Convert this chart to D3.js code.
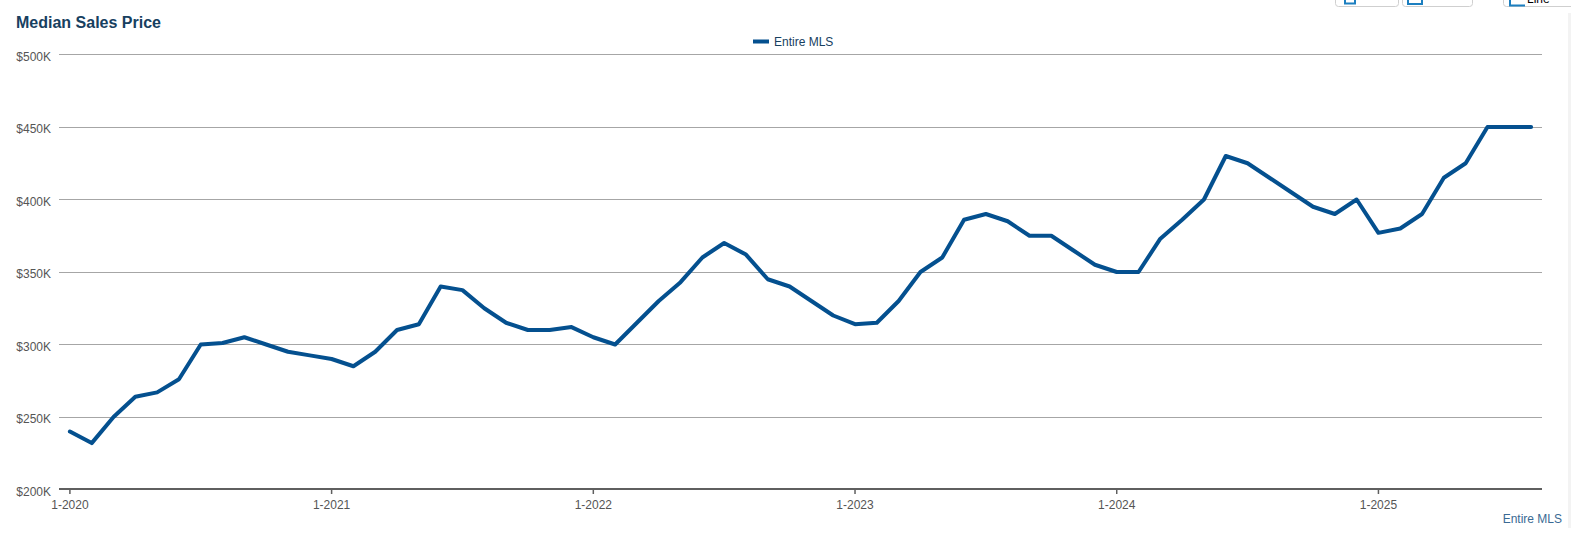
<!DOCTYPE html>
<html>
<head>
<meta charset="utf-8">
<script src="https://cdn.jsdelivr.net/npm/d3@7"></script>
<style>
  html, body { margin: 0; padding: 0; background: #fff; overflow: hidden; }
  text { font-family: "Liberation Sans", Arial, sans-serif; }
</style>
</head>
<body>
<div id="chart"></div>
<script>
let svgWidth = 1571;
let svgHeight = 535;

let months = [];
let years = [2020, 2021, 2022, 2023, 2024, 2025];
years.forEach(y => {
  for (let m = 1; m <= 12; m++) {
    if (y == 2025 && m > 8) break;
    months.push(m + "-" + y);
  }
});

// median price in $K, one per month
let prices = [
  240, 232, 250, 264, 267, 276, 300, 301, 305, 300, 295, 292.5,
  290, 285, 295, 310, 314, 340, 337.5, 325, 315, 310, 310, 312,
  305, 300, 315, 330, 343, 360, 370, 362, 345, 340, 330, 320,
  314, 315, 330, 350, 360, 386, 390, 385, 375, 375, 365, 355,
  350, 350, 373, 386, 400, 430, 425, 415, 405, 395, 390, 400,
  377, 380, 390, 415, 425, 450, 450, 450
];
let yTicks = [200, 250, 300, 350, 400, 450, 500];
let xTicks = ["1-2020", "1-2021", "1-2022", "1-2023", "1-2024", "1-2025"];
let seriesName = "Entire MLS";

let lineColor = "#04508f";
let titleColor = "#17405f";

let svg = d3.select("#chart")
  .append("svg")
    .attr("width", svgWidth)
    .attr("height", svgHeight)
    .style("display", "block");

let plotLeft = 59, plotRight = 1542, plotTop = 54.5, plotBottom = 489.5;

let x = d3.scaleBand().domain(months).range([plotLeft, plotRight]);
let y = d3.scaleLinear().domain([200, 500]).range([plotBottom, plotTop]);
let xMid = d => x(d) + x.bandwidth() / 2;

// grid lines + y labels
let yAxis = svg.append("g")
  .attr("transform", "translate(" + plotLeft + ",0)")
  .call(d3.axisLeft(y).tickValues(yTicks).tickSize(-(plotRight - plotLeft)).tickPadding(8).offset(0)
    .tickFormat(d => "$" + d + "K"));
yAxis.select(".domain").remove();
yAxis.selectAll("line")
  .attr("stroke", "#a6a6a6")
  .attr("stroke-width", 1)
  .attr("shape-rendering", "crispEdges");
yAxis.selectAll("text")
  .attr("font-size", 12)
  .attr("font-family", "Liberation Sans")
  .attr("fill", "#555")
  .attr("y", 2.5);

// x axis
let xAxis = svg.append("g")
  .attr("transform", "translate(0,489)")
  .call(d3.axisBottom(x).tickValues(xTicks).tickSize(5).tickSizeOuter(0).tickPadding(6));
xAxis.select(".domain").attr("stroke", "#5f5f5f").attr("stroke-width", 2).attr("d", "M" + plotLeft + ",0H" + plotRight);
xAxis.selectAll("line").attr("stroke", "#5f5f5f").attr("stroke-width", 1.5);
xAxis.selectAll("text")
  .attr("font-size", 12)
  .attr("font-family", "Liberation Sans")
  .attr("fill", "#555");

// the line
let line = d3.line().x((d, i) => xMid(months[i])).y(d => y(d));
svg.append("path")
  .attr("d", line(prices))
  .attr("fill", "none")
  .attr("stroke", lineColor)
  .attr("stroke-width", 4)
  .attr("stroke-linejoin", "round")
  .attr("stroke-linecap", "round");

// title
svg.append("text")
  .attr("x", 16).attr("y", 28)
  .attr("font-size", 16)
  .attr("font-weight", "bold")
  .attr("fill", titleColor)
  .text("Median Sales Price");

// legend
svg.append("rect")
  .attr("x", 753).attr("y", 39.5).attr("width", 16).attr("height", 4)
  .attr("fill", lineColor);
svg.append("text")
  .attr("x", 774).attr("y", 46)
  .attr("font-size", 12)
  .attr("fill", titleColor)
  .text(seriesName);

// label bottom right
svg.append("text")
  .attr("x", 1562).attr("y", 523)
  .attr("text-anchor", "end")
  .attr("font-size", 12)
  .attr("fill", "#3a6a94")
  .text(seriesName);

// toolbar buttons cut off at the top, scrollbar strip
let buttons = [[1335, 63], [1402, 70], [1503, 80]];
svg.selectAll(".btn").data(buttons).enter().append("rect")
  .attr("class", "btn")
  .attr("x", d => d[0] + 0.5).attr("y", -10)
  .attr("width", d => d[1]).attr("height", 16.5)
  .attr("rx", 3)
  .attr("fill", "#fff").attr("stroke", "#cfcfcf");
svg.append("path")
  .attr("d", "M1345,0V3.5H1355V0M1408,0V4H1422V0M1510,0V5.5H1525")
  .attr("fill", "none")
  .attr("stroke", "#1c7fc0")
  .attr("stroke-width", 2);
svg.append("text")
  .attr("x", 1527).attr("y", 3)
  .attr("font-size", 12)
  .attr("fill", "#000")
  .text("Line");
svg.append("rect")
  .attr("x", 1568).attr("y", 13).attr("width", 3).attr("height", 515)
  .attr("fill", "#f3f3f3");
</script>
</body>
</html>
